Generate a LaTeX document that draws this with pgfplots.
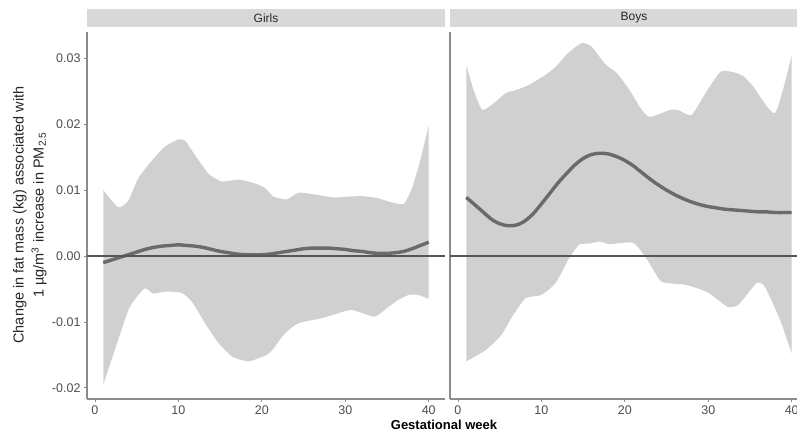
\documentclass[border=0pt]{standalone}
\usepackage{fontspec}
\setmainfont{Liberation Sans}
\usepackage{pgfplots}
\usepackage{pgfplotstable}
\pgfplotsset{compat=1.18}
\usepgfplotslibrary{fillbetween}

\definecolor{ribbon}{HTML}{D0D0D0}
\definecolor{strip}{HTML}{D9D9D9}
\definecolor{curve}{HTML}{6A6A6A}
\definecolor{zeroline}{HTML}{555555}
\definecolor{axisline}{HTML}{8C8C8C}
\definecolor{ticktext}{HTML}{4D4D4D}

% Girls: upper / lower bound of the band, and the estimate
\pgfplotstableread{
w v
1 0.0100
2.8 0.0074
4 0.0084
5.2 0.0118
6.9 0.0146
8.4 0.0166
10 0.0177
10.8 0.0175
12 0.0153
13.6 0.0125
15.2 0.0113
17.2 0.0116
19.2 0.0110
20.4 0.0103
21.4 0.0090
23 0.0086
24.4 0.0096
26.6 0.0093
28.6 0.0089
31.8 0.0091
33.8 0.0088
35.4 0.0082
37 0.0079
38 0.0103
39 0.0146
40 0.0199
}\girlsup
\pgfplotstableread{
w v
1 -0.0195
2.5 -0.0138
4 -0.0082
4.9 -0.0064
6 -0.0049
7 -0.0057
8.4 -0.0054
10.4 -0.0056
11.6 -0.0069
13.2 -0.0102
14.8 -0.0132
16.5 -0.0153
18.4 -0.0160
19.6 -0.0155
20.6 -0.0150
21.3 -0.0142
22.8 -0.0117
24.4 -0.0102
27.3 -0.0094
29.6 -0.0085
30.8 -0.0082
32.4 -0.0088
33.6 -0.0092
35.2 -0.0077
36.3 -0.0067
37.6 -0.0059
38.7 -0.0059
40 -0.0065
}\girlslo
\pgfplotstableread{
w v
1 -0.0010
2 -0.0006
3 -0.0002
4 0.0002
5 0.0006
6 0.0010
7 0.0013
8 0.0015
9 0.0016
10 0.0017
11 0.0016
12 0.0015
13 0.0013
14 0.0010
15 0.0007
16 0.0005
17 0.0003
18 0.0002
19 0.0002
20 0.0002
21 0.0003
22 0.0005
23 0.0007
24 0.0009
25 0.0011
26 0.0012
27 0.0012
28 0.0012
29 0.0011
30 0.0010
31 0.0008
32 0.0007
33 0.0005
34 0.0004
35 0.0004
36 0.0005
37 0.0007
38 0.0011
39 0.0016
40 0.0021
}\girlsfit

% Boys
\pgfplotstableread{
w v
1 0.0290
1.8 0.0255
2.9 0.0222
4.5 0.0234
5.7 0.0247
7 0.0252
8.4 0.0259
10.5 0.0275
11.7 0.0287
13.2 0.0308
14.8 0.0323
16 0.0318
17.6 0.0292
19.1 0.0277
20.7 0.0249
21.9 0.0224
23 0.0211
25.5 0.0222
26.5 0.0221
28 0.0214
29.9 0.0252
31.5 0.0280
33 0.0279
34.2 0.0273
35.4 0.0257
38 0.0217
40 0.0305
}\boysup
\pgfplotstableread{
w v
1 -0.0160
3.3 -0.0143
5.2 -0.0120
6.6 -0.0090
8.1 -0.0064
10 -0.0059
11.7 -0.0041
13.3 -0.0004
14.5 0.0017
15.8 0.0019
17 0.0022
18.2 0.0018
21 0.0020
22.6 -0.0004
24.2 -0.0037
25 -0.0041
27.4 -0.0044
29.9 -0.0055
32.3 -0.0077
33.6 -0.0074
35.8 -0.0041
36.8 -0.0047
38.6 -0.0097
40 -0.0148
}\boyslo
\pgfplotstableread{
w v
1 0.0089
2 0.0078
3 0.0067
4 0.0056
5 0.0049
6 0.0046
7 0.0047
8 0.0053
9 0.0064
10 0.0079
11 0.0095
12 0.0111
13 0.0125
14 0.0138
15 0.0148
16 0.0154
17 0.0156
18 0.0155
19 0.0151
20 0.0145
21 0.0137
22 0.0127
23 0.0117
24 0.0108
25 0.0100
26 0.0093
27 0.0087
28 0.0082
29 0.0078
30 0.0075
31 0.0073
32 0.0071
33 0.0070
34 0.0069
35 0.0068
36 0.0067
37 0.0067
38 0.0066
39 0.0066
40 0.0066
}\boysfit

\pgfplotsset{panel/.style={
  scale only axis, width=358pt, height=367pt,
  anchor=south west,
  xmin=-0.95, xmax=41.95, ymin=-0.0217, ymax=0.0340,
  axis x line*=bottom, axis y line*=left,
  axis line style={draw=axisline, line width=1.1pt},
  xtick={0,10,20,30,40},
  tick align=outside, major tick length=3pt,
  tick style={draw=axisline, line width=0.8pt},
  ticklabel style={font=\fontsize{12.5}{14}\selectfont, text=ticktext},
  /pgf/number format/assume math mode=true,
}}

\begin{document}
\begin{tikzpicture}
\begin{axis}[panel, at={(87pt,36pt)},
  ytick={-0.02,-0.01,0,0.01,0.02,0.03},
  yticklabels={-0.02,-0.01,0.00,0.01,0.02,0.03}]
\addplot[draw=none, name path=gu, forget plot, smooth, tension=0.35] table[x=w,y=v] {\girlsup};
\addplot[draw=none, name path=gl, forget plot, smooth, tension=0.35] table[x=w,y=v] {\girlslo};
\addplot[fill=ribbon, draw=none] fill between[of=gu and gl];
\addplot[curve, line width=3.4pt, smooth] table[x=w,y=v] {\girlsfit};
\addplot[zeroline, line width=1.3pt] coordinates {(-0.95,0) (41.95,0)};
\end{axis}
\begin{axis}[panel, at={(450pt,36pt)}, ytick=\empty]
\addplot[draw=none, name path=bu, forget plot, smooth, tension=0.35] table[x=w,y=v] {\boysup};
\addplot[draw=none, name path=bl, forget plot, smooth, tension=0.35] table[x=w,y=v] {\boyslo};
\addplot[fill=ribbon, draw=none] fill between[of=bu and bl];
\addplot[curve, line width=3.4pt, smooth] table[x=w,y=v] {\boysfit};
\addplot[zeroline, line width=1.3pt] coordinates {(-0.95,0) (41.95,0)};
\end{axis}
% facet strips
\fill[strip] (87pt,408pt) rectangle (445pt,426pt);
\fill[strip] (450pt,408pt) rectangle (808pt,426pt);
\node[font=\fontsize{12}{13}\selectfont, text=black!85] at (266pt,417pt) {Girls};
\node[font=\fontsize{12}{13}\selectfont, text=black!85] at (634pt,417pt) {Boys};
% axis titles
\node[font=\fontsize{13}{15}\selectfont\bfseries] at (444pt,10pt) {Gestational week};
\node[rotate=90, align=center, font=\fontsize{14.5}{20}\selectfont, text=black!85] at (30pt,220pt)
  {Change in fat mass (kg) associated with\\1 µg/m\textsuperscript{3} increase in PM\textsubscript{2.5}};
\pgfresetboundingbox
\path[use as bounding box] (0pt,0pt) rectangle (797pt,435pt);
\end{tikzpicture}
\end{document}
